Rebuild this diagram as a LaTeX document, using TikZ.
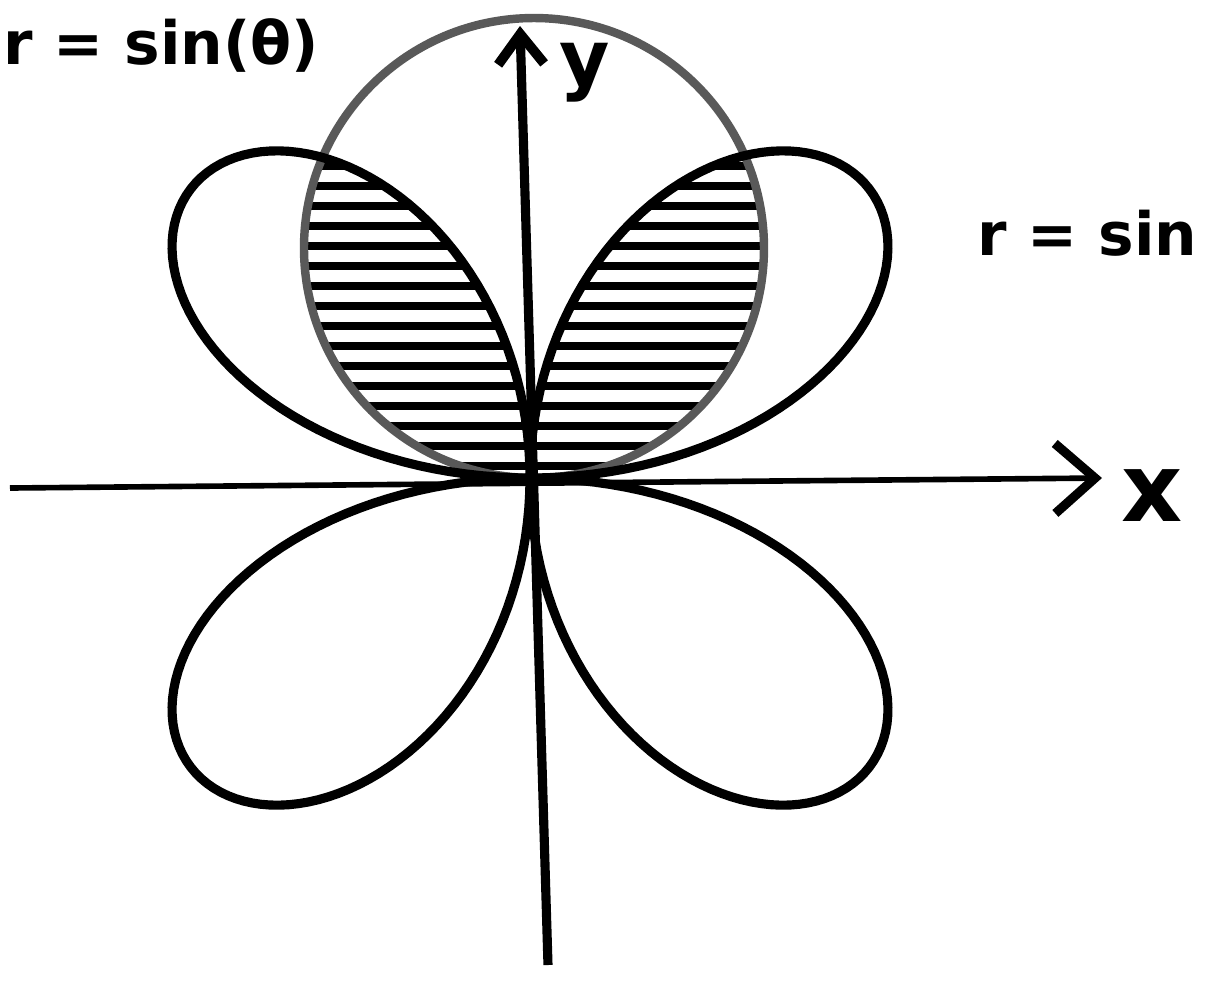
\documentclass[tikz,border=0pt]{standalone}
\usepackage{fontspec}
\setmainfont{DejaVu Sans}
\usetikzlibrary{arrows.meta}

\begin{document}
\begin{tikzpicture}[
    rose/.style={line width=2.6pt, black, line join=round},
    circ/.style={line width=2.4pt, black!65},
    hatch/.style={line width=2.1pt, line cap=round},
    xaxis/.style={line width=1.6pt, -{Straight Barb[length=4mm, width=7mm, line width=2.6pt]}},
    yaxis/.style={line width=2.6pt, -{Straight Barb[length=3mm, width=4.6mm, line width=2.8pt]}},
    lbl/.style={font=\bfseries\fontsize{17}{20}\selectfont, inner sep=0pt},
    axlbl/.style={font=\bfseries\fontsize{27}{30}\selectfont, inner sep=0pt}
]
    \useasboundingbox (-5.30,-5.02) rectangle (6.76,4.78);

    % overlap of the circle with the upper petals
    \begin{scope}
        \clip (0.04,2.3) circle (2.3);
        \clip plot[domain=0:360, samples=361] ({4.65*cos(\x)*sin(2*\x)}, {4.25*sin(\x)*sin(2*\x)}) -- cycle;
        \foreach \h in {0.12,0.32,...,4.6}
            \draw[hatch] (-3,\h) -- (3,\h);
    \end{scope}

    % r = sin(theta)
    \draw[circ] (0.04,2.3) circle (2.3);
    % r = sin(2 theta)
    \draw[rose] plot[domain=0:360, samples=361] ({4.65*cos(\x)*sin(2*\x)}, {4.25*sin(\x)*sin(2*\x)}) -- cycle;

    % axes
    \coordinate (xl) at (-5.2,-0.1);
    \coordinate (xr) at (5.72,0.0);
    \coordinate (yb) at (0.18,-4.87);
    \coordinate (yt) at (-0.1,4.52);
    \draw[xaxis] (xl) -- (xr);
    \draw[yaxis] (yb) -- (yt);

    \node[axlbl] (xlab) at (6.22,-0.18) {x};
    \node[axlbl, font=\bfseries\fontsize{22}{26}\selectfont] (ylab) at (0.55,4.05) {y};
    \node[lbl, anchor=west] (circlab) at (-5.27,4.33) {r = sin(θ)};
    \node[lbl, anchor=west] (roselab) at (4.47,2.45) {r = sin};
\end{tikzpicture}
\end{document}
